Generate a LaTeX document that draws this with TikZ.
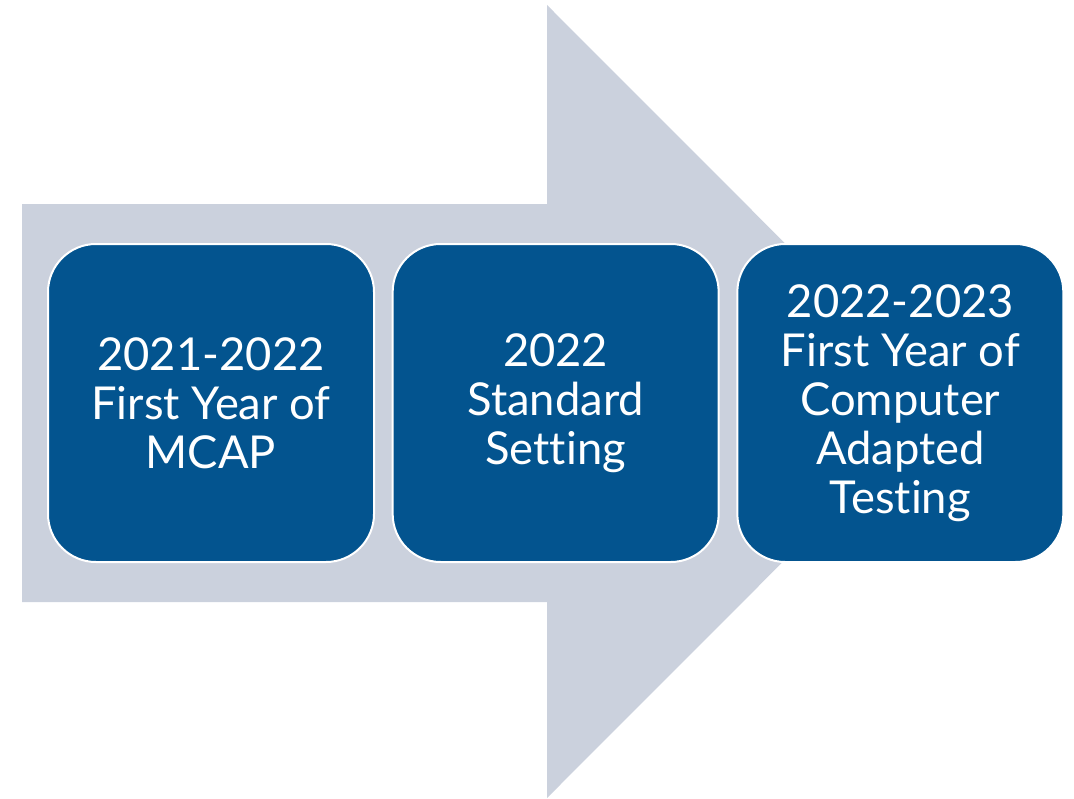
\documentclass[tikz,border=0pt]{standalone}
\usepackage{fontspec}
\setmainfont{Lato}[Ligatures=NoCommon]
\usepackage{xcolor}
\usepackage{tikz}
\usetikzlibrary{positioning}
\definecolor{arrowgray}{HTML}{CBD1DD}
\definecolor{stageblue}{HTML}{03548F}
\tikzset{stagebox/.style={draw=white, line width=1.5pt, fill=stageblue, rounded corners=36pt,
    minimum width=244.5pt, minimum height=238.5pt, text=white, align=center,
    font=\fontsize{34}{36.75}\selectfont}}

\begin{document}
\begin{tikzpicture}[x=0.75pt,y=-0.75pt]
    \useasboundingbox (0,0) rectangle (1074,799);

    % Big Arrow
    \fill[arrowgray] (22,204) -- (547,204) -- (547,5) -- (943,401.5) -- (547,798) -- (547,602) -- (22,602) -- cycle;

    % Stages
    \node[stagebox] (first) at (211,403) {2021-2022\\First Year of\\MCAP};
    \node[stagebox, right=12.5pt of first] (second) {2022\\Standard\\Setting};
    \node[stagebox, right=12.5pt of second] (third) {2022-2023\\First Year of\\Computer\\Adapted\\Testing};
\end{tikzpicture}
\end{document}
